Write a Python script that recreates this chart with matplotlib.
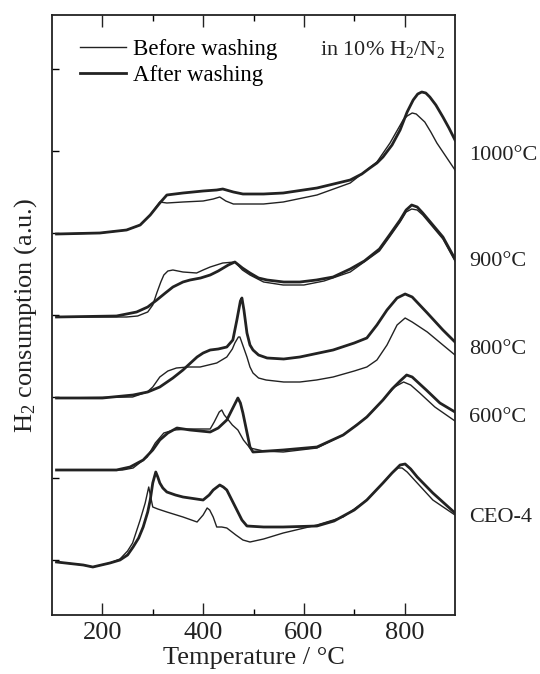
import matplotlib
matplotlib.use("Agg")
import matplotlib.pyplot as plt
import matplotlib.transforms as mtransforms

plt.rcParams['font.family'] = ['Liberation Serif', 'DejaVu Serif']
plt.rcParams['mathtext.fontset'] = 'custom'
plt.rcParams['mathtext.rm'] = 'Liberation Serif'
plt.rcParams['mathtext.it'] = 'Liberation Serif:italic'

# TPR profiles, temperature (C) vs H2 consumption (a.u., curves stacked)
# _a = after washing, _b = before washing
t_1000_a = [109, 195, 248, 275, 295, 314, 328, 360, 400, 427, 439, 460, 479, 520, 559, 626, 692, 715, 731,
            745, 757, 775, 791, 805, 817, 826, 834, 842, 850, 862, 876, 888, 900]
h_1000_a = [381, 382, 385, 390, 400, 412, 420, 422, 424, 425, 426, 423, 421, 421, 422, 427, 435, 441, 447,
            452, 458, 470, 485, 503, 515, 521, 523, 522, 518, 510, 498, 487, 475]
t_1000_b = [109, 195, 248, 275, 295, 314, 328, 360, 400, 420, 433, 445, 460, 479, 520, 559, 626, 692, 745,
            771, 797, 805, 815, 823, 840, 852, 864, 880, 900]
h_1000_b = [381, 382, 385, 390, 400, 413, 412, 413, 414, 416, 418, 414, 411, 411, 411, 413, 420, 432, 453,
            472, 495, 499, 502, 501, 493, 483, 472, 460, 445]

t_900_a = [109, 228, 268, 290, 308, 325, 340, 360, 374, 395, 414, 430, 450, 463, 478, 493, 510, 527, 560,
           592, 625, 658, 692, 720, 750, 770, 791, 803, 814, 825, 836, 856, 876, 900]
h_900_a = [298, 299, 303, 308, 315, 322, 328, 333, 335, 337, 340, 344, 350, 353, 347, 342, 337, 335, 333,
           333, 335, 338, 346, 354, 366, 380, 395, 405, 410, 408, 402, 390, 378, 356]
t_900_b = [109, 248, 270, 290, 300, 308, 316, 322, 330, 340, 360, 387, 400, 414, 439, 463, 478, 493, 520,
           559, 600, 640, 692, 750, 770, 791, 803, 814, 825, 836, 856, 876, 900]
h_900_b = [298, 298, 299, 303, 310, 322, 333, 340, 344, 345, 343, 342, 345, 348, 352, 353, 345, 340, 333,
           330, 330, 334, 343, 364, 378, 393, 403, 406, 405, 400, 388, 376, 354]

t_800_a = [109, 200, 261, 290, 314, 340, 360, 375, 388, 400, 414, 430, 447, 459, 467, 474, 477, 481, 487,
           493, 499, 510, 527, 560, 592, 658, 700, 725, 745, 765, 785, 801, 815, 830, 845, 876, 900]
h_800_a = [217, 217, 220, 223, 228, 237, 245, 252, 258, 262, 265, 266, 268, 275, 295, 314, 317, 305, 282,
           270, 265, 260, 257, 256, 258, 265, 272, 277, 290, 305, 317, 321, 318, 310, 302, 285, 273]
t_800_b = [109, 260, 289, 300, 314, 330, 347, 370, 394, 427, 447, 458, 463, 470, 473, 480, 487, 493, 499,
           510, 525, 560, 592, 625, 658, 700, 725, 745, 765, 785, 801, 815, 830, 845, 876, 900]
h_800_b = [217, 218, 223, 228, 238, 244, 247, 248, 248, 252, 258, 266, 272, 278, 278, 268, 258, 248, 242,
           237, 235, 233, 233, 235, 238, 244, 248, 255, 270, 290, 297, 293, 288, 283, 270, 260]

t_600_a = [109, 228, 255, 281, 300, 314, 330, 348, 374, 414, 430, 447, 460, 469, 474, 479, 486, 493, 499,
           530, 559, 626, 678, 705, 725, 757, 775, 791, 804, 815, 830, 843, 870, 900]
h_600_a = [145, 145, 148, 155, 165, 175, 182, 187, 185, 183, 187, 195, 208, 217, 212, 202, 185, 168, 163,
           164, 165, 168, 180, 190, 198, 215, 226, 234, 240, 238, 231, 225, 212, 203]
t_600_b = [109, 240, 261, 289, 305, 322, 342, 374, 414, 422, 427, 432, 437, 442, 447, 458, 469, 480, 493,
           520, 559, 626, 678, 725, 757, 780, 798, 812, 830, 860, 900]
h_600_b = [145, 145, 147, 158, 172, 182, 185, 186, 186, 193, 198, 203, 205, 200, 197, 190, 185, 175, 167,
           164, 163, 167, 180, 198, 215, 228, 233, 230, 222, 208, 194]

t_ceo_a = [109, 162, 181, 215, 235, 250, 261, 272, 281, 290, 295, 300, 306, 310, 314, 320, 328, 345, 360,
           400, 412, 420, 433, 440, 447, 457, 467, 477, 487, 520, 559, 626, 660, 700, 725, 757, 775, 791,
           801, 812, 825, 856, 900]
h_ceo_a = [53, 50, 48, 52, 55, 60, 68, 77, 88, 103, 115, 132, 143, 138, 132, 127, 123, 120, 118,
           115, 120, 125, 130, 128, 125, 115, 105, 95, 89, 88, 88, 89, 94, 105, 115, 132, 142, 150,
           151, 146, 138, 122, 102]
t_ceo_b = [109, 162, 181, 215, 235, 250, 260, 275, 285, 292, 296, 300, 310, 328, 360, 388, 400, 408, 413,
           420, 427, 437, 447, 465, 479, 493, 520, 559, 626, 678, 725, 757, 775, 787, 795, 805, 825, 856, 900]
h_ceo_b = [53, 50, 48, 52, 56, 64, 72, 95, 112, 128, 118, 108, 106, 103, 98, 93, 100, 107, 105,
           98, 88, 88, 87, 80, 75, 73, 76, 82, 90, 98, 115, 132, 142, 147, 147, 143, 132, 115, 100]

labels = ['1000°C', '900°C', '800°C', '600°C', 'CEO-4']
label_h = [460, 353, 266, 197, 97]

ink = '#222222'
fig = plt.figure(figsize=(5.4, 6.74), dpi=100)
ax = fig.add_axes([52 / 540, 59 / 674, 403 / 540, 600 / 674])

pairs = [(t_1000_b, h_1000_b, t_1000_a, h_1000_a),
         (t_900_b, h_900_b, t_900_a, h_900_a),
         (t_800_b, h_800_b, t_800_a, h_800_a),
         (t_600_b, h_600_b, t_600_a, h_600_a),
         (t_ceo_b, h_ceo_b, t_ceo_a, h_ceo_a)]
for i, (tb, hb, ta, ha) in enumerate(pairs):
    ax.plot(tb, hb, color=ink, lw=1.0, label='Before washing' if i == 0 else None)
    ax.plot(ta, ha, color=ink, lw=2.0, label='After washing' if i == 0 else None)

ax.set_xlim(100, 900)
ax.set_ylim(0, 600)
ax.set_xticks([200, 400, 600, 800])
ax.set_xticks([300, 500, 700], minor=True)
ax.set_yticks([55, 137, 218, 300, 382, 464, 546])
ax.set_yticklabels([])
ax.tick_params(axis='x', direction='in', top=True, length=8.5, width=1.0,
               labelsize=19, colors=ink, pad=5)
ax.tick_params(axis='x', which='minor', direction='in', top=True, length=4, width=1.0)
ax.tick_params(axis='y', direction='in', length=5, width=1.0)
for s in ax.spines.values():
    s.set_linewidth(1.3)
    s.set_color(ink)

ax.set_xlabel('Temperature / °C', fontsize=19, color=ink, labelpad=2)
ax.set_ylabel('H$_2$ consumption (a.u.)', fontsize=19, color=ink, labelpad=6)

trans = mtransforms.blended_transform_factory(ax.transAxes, ax.transData)
for lab, y in zip(labels, label_h):
    ax.text(1.035, y, lab, transform=trans, fontsize=16, color=ink, va='center', ha='left')

ax.text(0.665, 0.942, 'in 10% H$_2$/N$_2$', transform=ax.transAxes, fontsize=16,
        color=ink, va='center', ha='left')
ax.legend(loc='upper left', bbox_to_anchor=(0.07, 0.96), frameon=False,
          fontsize=16.5, handlelength=2.0, handletextpad=0.3, labelspacing=0.2,
          borderaxespad=0, borderpad=0)

fig.savefig('out.png', dpi=100)
